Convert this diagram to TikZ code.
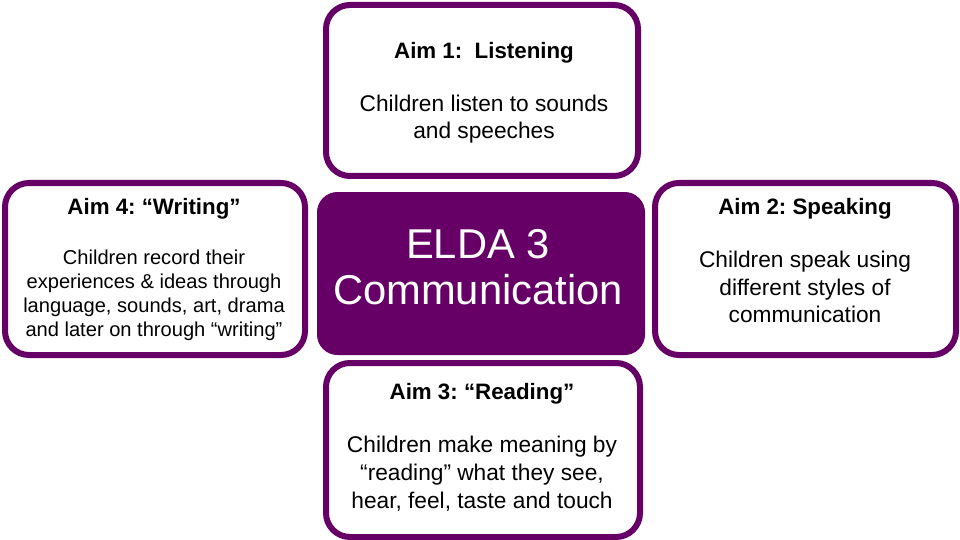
\documentclass[tikz,border=0pt]{standalone}
\usepackage{fontspec}
\setmainfont{Liberation Sans}
\definecolor{eldapurple}{RGB}{102,0,102}
\frenchspacing
\begin{document}
\begin{tikzpicture}[x=1pt,y=-1pt,
  aimbox/.style={draw=eldapurple, line width=6pt, rounded corners=24pt, fill=white, inner sep=0pt},
  corebox/.style={draw=eldapurple, fill=eldapurple, line width=1pt, rounded corners=20pt, inner sep=0pt},
  titletext/.style={font=\fontsize{22.3}{26}\selectfont\bfseries, anchor=base, inner sep=0pt},
  bodytext/.style={font=\fontsize{22.7}{27.6}\selectfont, align=center, inner sep=0pt},
  smalltext/.style={font=\fontsize{20.1}{24}\selectfont, align=center, inner sep=0pt},
  coretext/.style={font=\fontsize{41.7}{46}\selectfont, align=center, text=white, inner sep=0pt}]
\useasboundingbox[fill=white] (0,0) rectangle (960,540);
% boxes
\node[aimbox, minimum width=312pt, minimum height=171pt] (top) at (482,90.5) {};
\node[aimbox, minimum width=300pt, minimum height=172pt] (left) at (155,269) {};
\node[aimbox, minimum width=301pt, minimum height=172pt] (right) at (805.5,269) {};
\node[aimbox, minimum width=314pt, minimum height=174pt] (bottom) at (483,450) {};
\node[corebox, minimum width=327pt, minimum height=162pt] (core) at (481,273.5) {};
% texts
\node[titletext] (t1) at (484,59) {Aim 1:\ \ Listening};
\node[bodytext] (b1) at (484,119) {Children listen to sounds\\and speeches};
\node[titletext] (t4) at (154,214) {Aim 4: “Writing”};
\node[smalltext] (b4) at (154,295.8) {Children record their\\experiences \& ideas through\\language, sounds, art, drama\\and later on through “writing”};
\node[titletext] (t2) at (805,214) {Aim 2: Speaking};
\node[bodytext] (b2) at (805,287.2) {Children speak using\\different styles of\\communication};
\node[titletext] (t3) at (482,399) {Aim 3: “Reading”};
\node[bodytext] (b3) at (482,473.7) {Children make meaning by\\“reading” what they see,\\hear, feel, taste and touch};
\node[coretext] (c) at (478,267) {ELDA 3\\Communication};
\end{tikzpicture}
\end{document}
